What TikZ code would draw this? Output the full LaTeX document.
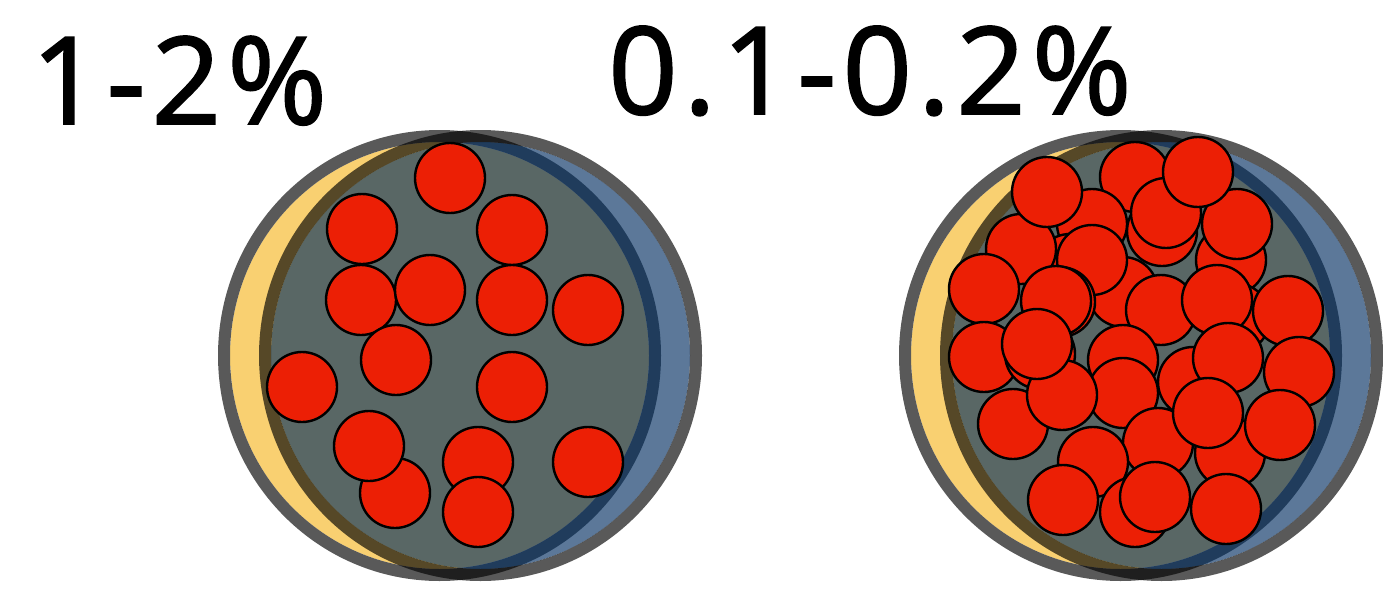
\documentclass[tikz,border=0pt]{standalone}
\usepackage{fontspec}
\setmainfont[LetterSpace=5,FakeBold=1.6]{Open Sans}
\usepackage{tikz}
\definecolor{yolk}{HTML}{F9D071}
\definecolor{navy}{HTML}{002C5F}
\definecolor{rim}{HTML}{595959}
\definecolor{spotred}{HTML}{EC1F05}
\tikzset{
  spot/.style={circle,draw=black,fill=spotred,line width=1.8pt,inner sep=0pt,minimum size=52.5pt},
  percent/.style={inner sep=0pt,font=\fontsize{91}{91}\selectfont}
}
% two offset rings: an opaque yellow one with a translucent blue one above it
\newcommand{\rings}[2]{
  \fill[yolk] (#1-20.5,#2) ellipse (209.5 and 213.5);
  \draw[rim,line width=9pt] (#1-20.5,#2) ellipse (215.5 and 219.5);
  \fill[navy,opacity=.64] (#1+20.5,#2) ellipse (209.5 and 213.5);
  \draw[black,opacity=.65,line width=9pt] (#1+20.5,#2) ellipse (215.5 and 219.5);
}
\begin{document}
\begin{tikzpicture}[x=0.75pt,y=-0.75pt]
\useasboundingbox (0,0) rectangle (1383,592);
\rings{460}{355.5}
\rings{1141}{355.5}

\node [percent,anchor=base west] (low) at (31,124) {1-2\%};
\node [percent,anchor=base west] (high) at (608,114) {0.1-0.2\%};

% spots of the left ring
\node [spot] (a) at (450,178) {};
\node [spot] (b) at (362,229) {};
\node [spot] (c) at (512,230) {};
\node [spot] (d) at (361,300) {};
\node [spot] (e) at (430,290) {};
\node [spot] (f) at (512,300) {};
\node [spot] (g) at (588,310) {};
\node [spot] (h) at (396,360) {};
\node [spot] (i) at (302,387) {};
\node [spot] (j) at (512,387) {};
\node [spot] (k) at (395,493) {};
\node [spot] (l) at (369,446) {};
\node [spot] (m) at (478,462) {};
\node [spot] (n) at (478,512) {};
\node [spot] (o) at (588,462) {};

% spots of the right ring, lowest first
\node [spot] (r1) at (1135,177) {};
\node [spot] (r2) at (1162,231) {};
\node [spot] (r3) at (1166,213) {};
\node [spot] (r4) at (1231,260) {};
\node [spot] (r5) at (1237,224) {};
\node [spot] (r6) at (1198,172) {};
\node [spot] (r7) at (1092,224) {};
\node [spot] (r10) at (1070,269) {};
\node [spot] (r8) at (1021,249) {};
\node [spot] (r9) at (1047,192) {};
\node [spot] (r11) at (1123,292) {};
\node [spot] (r12) at (1092,260) {};
\node [spot] (r13) at (984,289) {};
\node [spot] (r14) at (1060,302) {};
\node [spot] (r15) at (1056,301) {};
\node [spot] (r16) at (1235,318) {};
\node [spot] (r17) at (1161,310) {};
\node [spot] (r18) at (1217,300) {};
\node [spot] (r19) at (1288,311) {};
\node [spot] (r20) at (1299,372) {};
\node [spot] (r21) at (1193,382) {};
\node [spot] (r22) at (1228,358) {};
\node [spot] (r23) at (1123,360) {};
\node [spot] (r24) at (1123,393) {};
\node [spot] (r25) at (984,357) {};
\node [spot] (r26) at (1040,354) {};
\node [spot] (r27) at (1013,424) {};
\node [spot] (r28) at (1062,395) {};
\node [spot] (r29) at (1037,344) {};
\node [spot] (r30) at (1230,453) {};
\node [spot] (r31) at (1158,443) {};
\node [spot] (r32) at (1208,413) {};
\node [spot] (r33) at (1280,425) {};
\node [spot] (r34) at (1093,462) {};
\node [spot] (r35) at (1063,500) {};
\node [spot] (r36) at (1135,512) {};
\node [spot] (r37) at (1155,497) {};
\node [spot] (r38) at (1226,509) {};
\end{tikzpicture}
\end{document}
